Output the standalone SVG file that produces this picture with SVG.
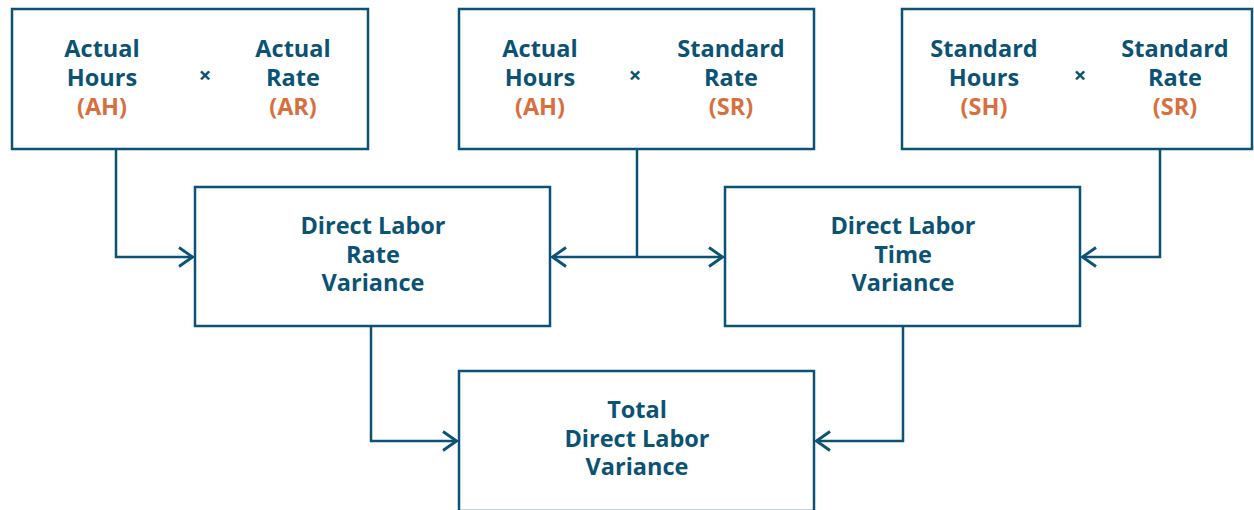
<svg xmlns="http://www.w3.org/2000/svg" width="1254" height="510" viewBox="0 0 1254 510">
<defs>
<style>
.box{fill:#fff;stroke:#0b5274;stroke-width:2.5}
.t{font-family:"Open Sans","Noto Sans",sans-serif;font-weight:700;font-size:23.5px;fill:#0b5274;text-anchor:middle}
.o{fill:#d7703f}
.x{font-size:22px}
.c{fill:none;stroke:#0b5274;stroke-width:2.5}
</style>
<marker id="ah" viewBox="0 0 16 22" refX="15" refY="11" markerWidth="16" markerHeight="22" markerUnits="userSpaceOnUse" orient="auto-start-reverse">
<path d="M1,1.5 L14.5,11 L1,20.5" fill="none" stroke="#0b5274" stroke-width="2.8"/>
</marker>
</defs>
<g id="connectors">
<path class="c" d="M116,149 V257 H193" marker-end="url(#ah)"/>
<path class="c" d="M552,257 H723" marker-start="url(#ah)" marker-end="url(#ah)"/>
<path class="c" d="M637,149 V257"/>
<path class="c" d="M1160,149 V257 H1082" marker-end="url(#ah)"/>
<path class="c" d="M371,326 V441 H457" marker-end="url(#ah)"/>
<path class="c" d="M903,326 V441 H816" marker-end="url(#ah)"/>
</g>
<g id="actual-box">
<rect class="box" x="12" y="9" width="356" height="140"/>
<text class="t" x="102" y="57">Actual</text>
<text class="t" x="102" y="86">Hours</text>
<text class="t o" x="102" y="115">(AH)</text>
<text class="t x" x="205" y="83">×</text>
<text class="t" x="293" y="57">Actual</text>
<text class="t" x="293" y="86">Rate</text>
<text class="t o" x="293" y="115">(AR)</text>
</g>
<g id="ahsr-box">
<rect class="box" x="459" y="9" width="355" height="140"/>
<text class="t" x="540" y="57">Actual</text>
<text class="t" x="540" y="86">Hours</text>
<text class="t o" x="540" y="115">(AH)</text>
<text class="t x" x="635" y="83">×</text>
<text class="t" x="731" y="57">Standard</text>
<text class="t" x="731" y="86">Rate</text>
<text class="t o" x="731" y="115">(SR)</text>
</g>
<g id="standard-box">
<rect class="box" x="902" y="9" width="350" height="140"/>
<text class="t" x="984" y="57">Standard</text>
<text class="t" x="984" y="86">Hours</text>
<text class="t o" x="984" y="115">(SH)</text>
<text class="t x" x="1080" y="83">×</text>
<text class="t" x="1175" y="57">Standard</text>
<text class="t" x="1175" y="86">Rate</text>
<text class="t o" x="1175" y="115">(SR)</text>
</g>
<g id="rate-variance">
<rect class="box" x="195" y="187" width="355" height="139"/>
<text class="t" x="373" y="234">Direct Labor</text>
<text class="t" x="373" y="263">Rate</text>
<text class="t" x="373" y="291">Variance</text>
</g>
<g id="time-variance">
<rect class="box" x="725" y="187" width="355" height="139"/>
<text class="t" x="903" y="234">Direct Labor</text>
<text class="t" x="903" y="263">Time</text>
<text class="t" x="903" y="291">Variance</text>
</g>
<g id="total-variance">
<rect class="box" x="459" y="371" width="355" height="140"/>
<text class="t" x="637" y="418">Total</text>
<text class="t" x="637" y="447">Direct Labor</text>
<text class="t" x="637" y="475">Variance</text>
</g>
</svg>
